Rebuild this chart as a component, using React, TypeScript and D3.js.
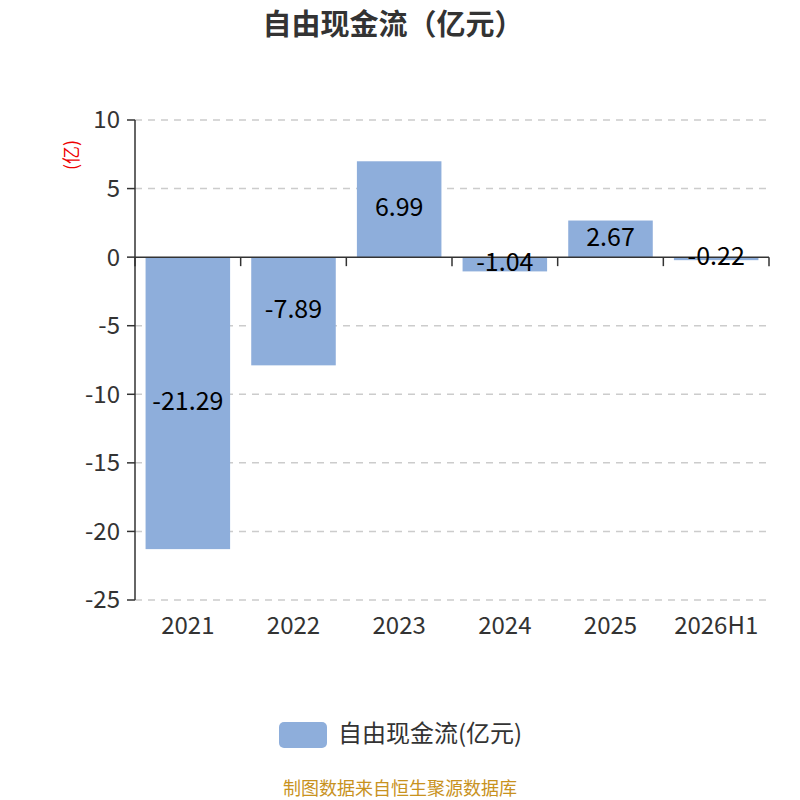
import React, { useEffect, useRef } from "react";
import * as d3 from "d3";

const categories = ["2021", "2022", "2023", "2024", "2025", "2026H1"];
const values = [-21.29, -7.89, 6.99, -1.04, 2.67, -0.22];
const yTicks = [10, 5, 0, -5, -10, -15, -20, -25];

const font = "'Noto Sans CJK SC', 'Noto Sans', sans-serif";

const App: React.FC = () => {
  const svgRef = useRef<SVGSVGElement>(null);

  useEffect(() => {
    const width = 800;
    const height = 800;
    const left = 135;
    const right = 769;
    const top = 120;
    const bottom = 600;

    const svg = d3.select(svgRef.current).attr("width", width).attr("height", height);
    svg.selectAll("*").remove();

    const x = d3.scaleBand<string>().domain(categories).range([left, right]).paddingInner(0.2).paddingOuter(0.1);
    const xb = d3.scaleBand<string>().domain(categories).range([left, right]);
    const y = d3.scaleLinear().domain([-25, 10]).range([bottom, top]);

    svg
      .append("text")
      .attr("x", 393)
      .attr("y", 35)
      .attr("text-anchor", "middle")
      .attr("font-family", font)
      .attr("font-size", 29)
      .attr("font-weight", "bold")
      .attr("fill", "#333")
      .text("自由现金流（亿元）");

    // gridlines
    svg
      .append("g")
      .selectAll("line")
      .data(yTicks.filter((t) => t !== 0))
      .enter()
      .append("line")
      .attr("x1", left)
      .attr("x2", right)
      .attr("y1", (d) => y(d))
      .attr("y2", (d) => y(d))
      .attr("stroke", "#ccc")
      .attr("stroke-width", 1.5)
      .attr("stroke-dasharray", "7,6");

    // bars
    svg
      .append("g")
      .selectAll("rect")
      .data(values)
      .enter()
      .append("rect")
      .attr("x", (_, i) => x(categories[i])!)
      .attr("width", x.bandwidth())
      .attr("y", (d) => y(Math.max(0, d)))
      .attr("height", (d) => Math.abs(y(d) - y(0)))
      .attr("fill", "#8eaedb");

    // y axis
    const yAxis = svg.append("g").attr("transform", `translate(${left},0)`);
    yAxis.append("line").attr("x1", 0).attr("x2", 0).attr("y1", top).attr("y2", bottom).attr("stroke", "#333").attr("stroke-width", 1.5);
    yAxis
      .selectAll("line.tick")
      .data(yTicks)
      .enter()
      .append("line")
      .attr("class", "tick")
      .attr("x1", -8)
      .attr("x2", 0)
      .attr("y1", (d) => y(d))
      .attr("y2", (d) => y(d))
      .attr("stroke", "#333")
      .attr("stroke-width", 1.5);
    yAxis
      .selectAll("text")
      .data(yTicks)
      .enter()
      .append("text")
      .attr("x", -15)
      .attr("y", (d) => y(d))
      .attr("dy", "0.35em")
      .attr("text-anchor", "end")
      .attr("font-family", font)
      .attr("font-size", 24)
      .attr("fill", "#333")
      .text((d) => d);

    svg
      .append("text")
      .attr("transform", `translate(72,155) rotate(-90)`)
      .attr("text-anchor", "middle")
      .attr("dy", "0.35em")
      .attr("font-family", font)
      .attr("font-size", 18)
      .attr("fill", "#e00")
      .text("(亿)");

    // x axis at zero
    const xAxis = svg.append("g");
    xAxis.append("line").attr("x1", left).attr("x2", right).attr("y1", y(0)).attr("y2", y(0)).attr("stroke", "#333").attr("stroke-width", 1.5);
    xAxis
      .selectAll("line.tick")
      .data([...categories.map((c) => xb(c)!), right])
      .enter()
      .append("line")
      .attr("class", "tick")
      .attr("x1", (d) => d)
      .attr("x2", (d) => d)
      .attr("y1", y(0))
      .attr("y2", y(0) + 9)
      .attr("stroke", "#333")
      .attr("stroke-width", 1.5);
    xAxis
      .selectAll("text")
      .data(categories)
      .enter()
      .append("text")
      .attr("x", (d) => xb(d)! + xb.bandwidth() / 2)
      .attr("y", 626)
      .attr("dy", "0.35em")
      .attr("text-anchor", "middle")
      .attr("font-family", font)
      .attr("font-size", 24)
      .attr("fill", "#333")
      .text((d) => d);

    // value labels
    svg
      .append("g")
      .selectAll("text")
      .data(values)
      .enter()
      .append("text")
      .attr("x", (_, i) => x(categories[i])! + x.bandwidth() / 2)
      .attr("y", (d) => (y(d) + y(0)) / 2 - 2)
      .attr("dy", "0.35em")
      .attr("text-anchor", "middle")
      .attr("font-family", font)
      .attr("font-size", 25)
      .attr("fill", "#000")
      .text((d) => d.toFixed(2));

    // legend
    svg.append("rect").attr("x", 279).attr("y", 722).attr("width", 48).attr("height", 26).attr("rx", 5).attr("fill", "#8eaedb");
    svg
      .append("text")
      .attr("x", 338)
      .attr("y", 734)
      .attr("dy", "0.35em")
      .attr("font-family", font)
      .attr("font-size", 24)
      .attr("fill", "#333")
      .text("自由现金流(亿元)");

    svg
      .append("text")
      .attr("x", 400)
      .attr("y", 789)
      .attr("text-anchor", "middle")
      .attr("dy", "0.35em")
      .attr("font-family", font)
      .attr("font-size", 18)
      .attr("fill", "#c8921e")
      .text("制图数据来自恒生聚源数据库");
  }, []);

  return (
    <div style={{ width: 800, height: 800 }}>
      <svg ref={svgRef} style={{ position: "absolute", left: 0, top: 0 }}></svg>
    </div>
  );
};

export default App;
